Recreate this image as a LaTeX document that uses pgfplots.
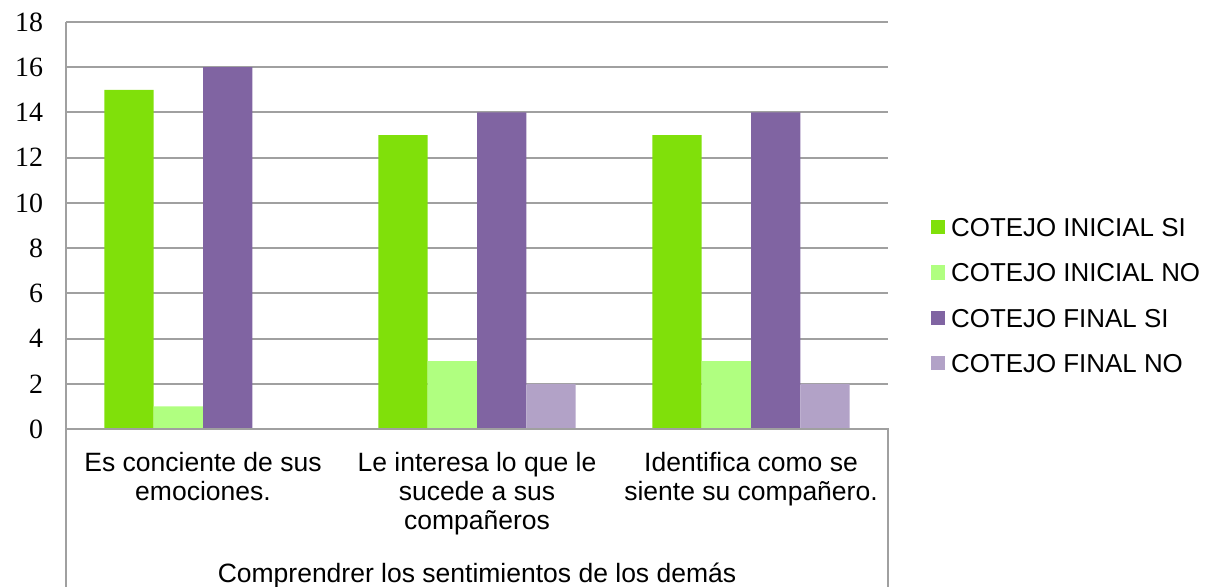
\documentclass[border=0pt]{standalone}
\usepackage{pgfplots}
\pgfplotsset{compat=1.18}
\usepackage{fontspec}
\setmainfont{Liberation Sans}
\newfontfamily\tickfont{Liberation Serif}
\definecolor{cA}{RGB}{128,224,10}
\definecolor{cB}{RGB}{176,255,128}
\definecolor{cC}{RGB}{128,100,162}
\definecolor{cD}{RGB}{178,162,199}
\definecolor{gridc}{RGB}{160,160,160}
\begin{document}
\begin{tikzpicture}
\begin{axis}[
 name=ax,
 scale only axis, width=411bp, height=203.5bp,
 xmin=-0.5, xmax=2.5, ymin=0, ymax=18,
 ytick={0,2,...,18},
 xtick={0,1,2},
 xticklabels={{Es conciente de sus\\emociones.},{Le interesa lo que le\\sucede a sus\\compañeros},{Identifica como se\\siente su compañero.}},
 xticklabel style={align=center, font=\fontsize{13.3}{14.5}\selectfont, yshift=-8bp},
 yticklabel style={font=\tickfont\fontsize{14}{15}\selectfont, xshift=-8bp},
 /pgf/number format/assume math mode=true,
 major tick length=0pt,
 axis line style={draw=none},
 ymajorgrids, grid style={gridc, line width=1bp},
 ybar, bar width=0.18,
 clip=false,
 legend style={draw=none, fill=none, at={(1.052,0.322)}, anchor=west, inner sep=0pt,
   font=\fontsize{13}{14.5}\selectfont, row sep=10.15bp, column sep=3bp,
   nodes={inner sep=0pt, text height=9.5bp, text depth=3bp}},
 legend cell align=left,
 legend image code/.code={\fill[#1] (0bp,-2.2bp) rectangle (7bp,5bp);},
]
\addplot[fill=cA, draw=none, bar shift=-0.27] coordinates {(0,15) (1,13) (2,13)};
\addplot[fill=cB, draw=none, bar shift=-0.09] coordinates {(0,1) (1,3) (2,3)};
\addplot[fill=cC, draw=none, bar shift=0.09] coordinates {(0,16) (1,14) (2,14)};
\addplot[fill=cD, draw=none, bar shift=0.27] coordinates {(0,0) (1,2) (2,2)};
\legend{COTEJO INICIAL SI, COTEJO INICIAL NO, COTEJO FINAL SI, COTEJO FINAL NO}
\draw[gridc, line width=1bp] (rel axis cs:0,1) -- ([yshift=-85bp]rel axis cs:0,0);
\draw[gridc, line width=1bp] (rel axis cs:0,0) -- (rel axis cs:1,0) -- ([yshift=-85bp]rel axis cs:1,0);
\node[anchor=base, font=\fontsize{13.3}{14.5}\selectfont] at ([yshift=-76.5bp]rel axis cs:0.5,0) {Comprendrer los sentimientos de los demás};
\end{axis}
\pgfresetboundingbox
\path[use as bounding box] ([xshift=-33bp,yshift=-79bp]ax.south west) rectangle ([xshift=163bp,yshift=11bp]ax.north east);
\end{tikzpicture}
\end{document}
